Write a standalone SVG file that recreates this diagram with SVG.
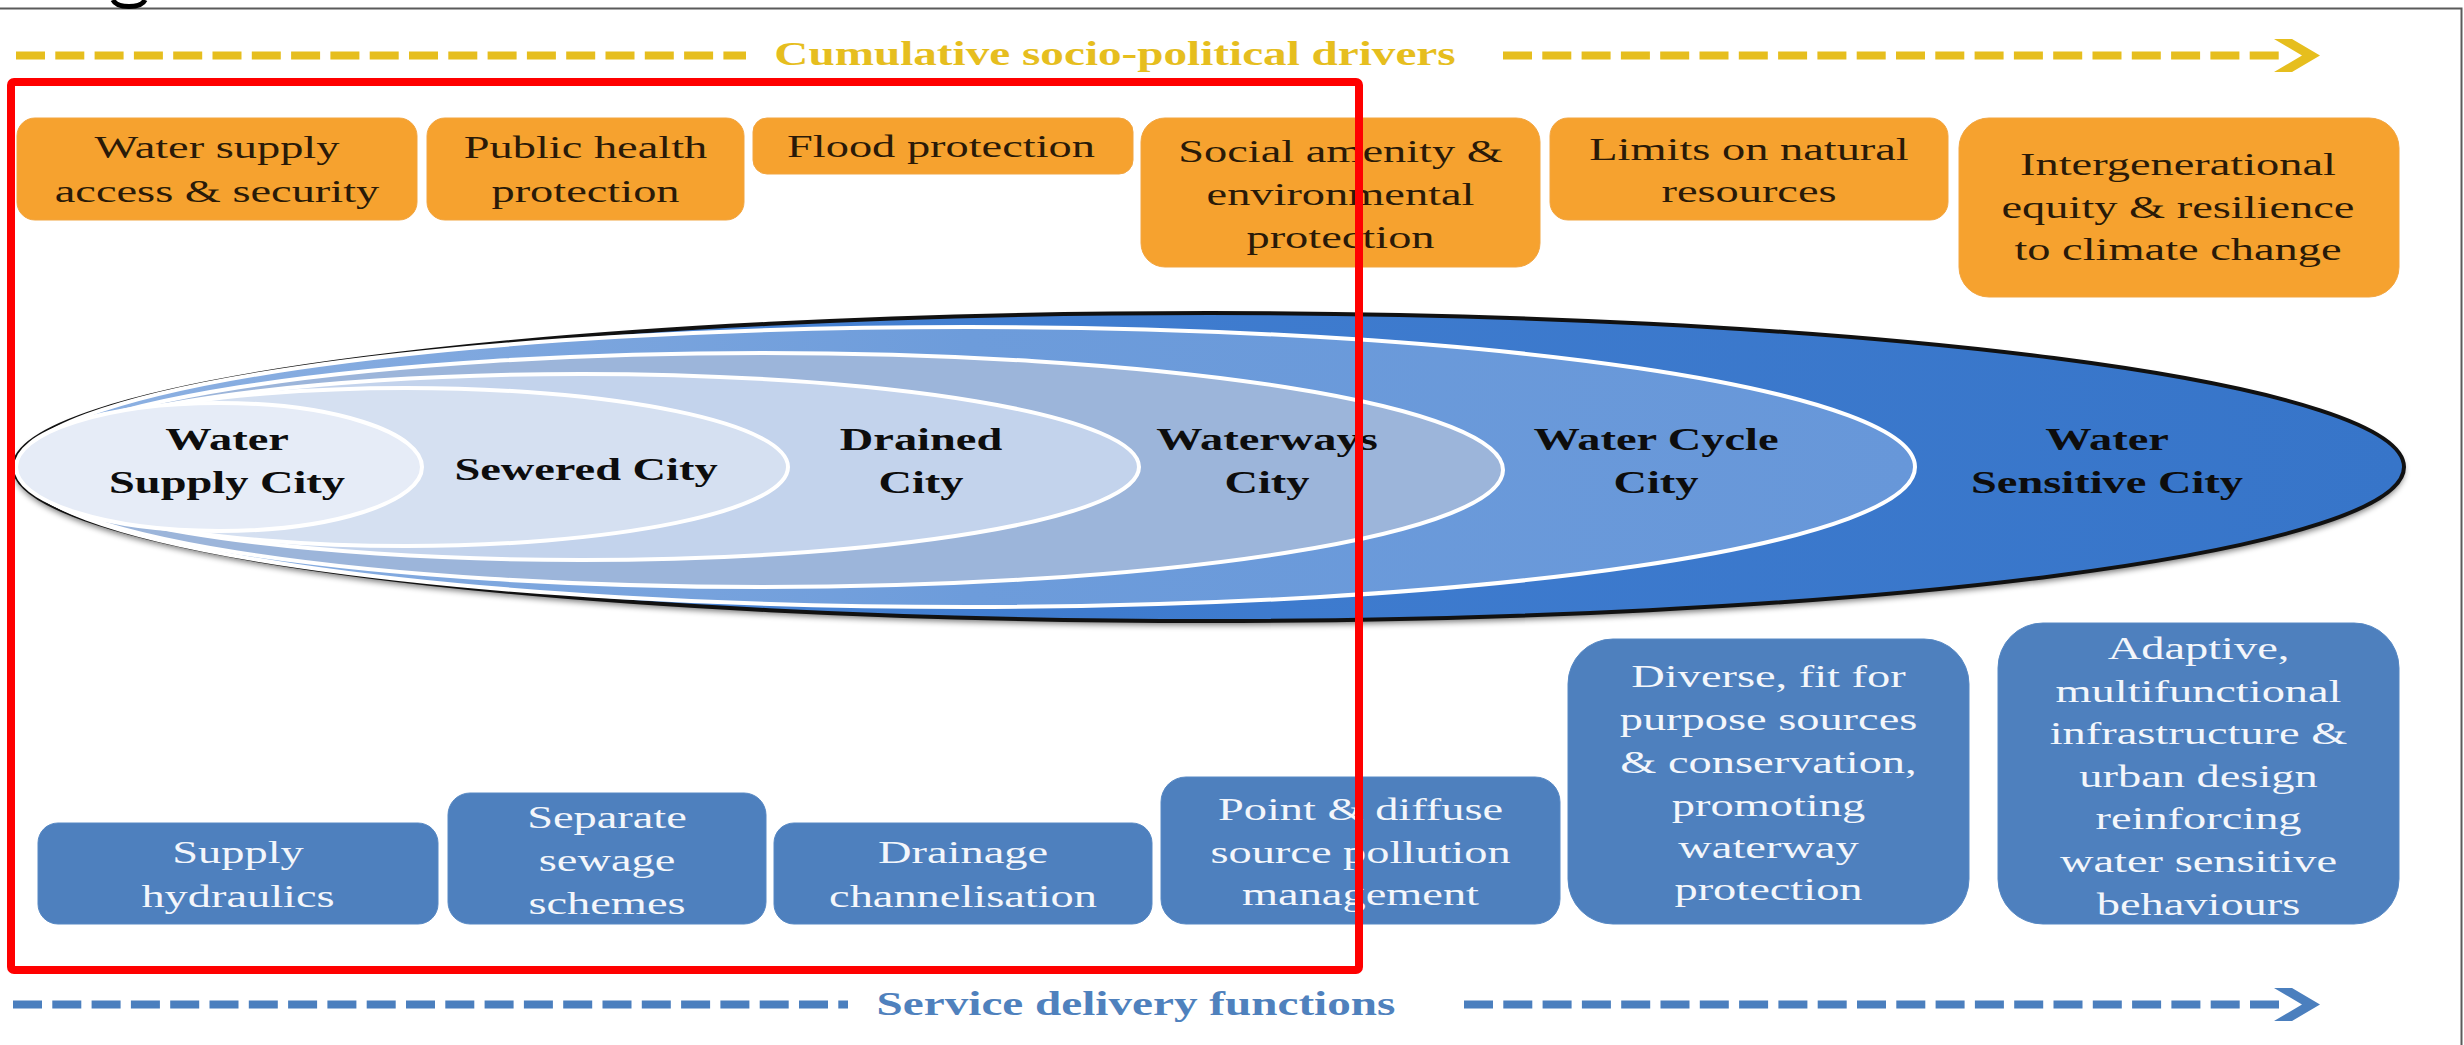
<svg xmlns="http://www.w3.org/2000/svg" width="2464" height="1045" viewBox="0 0 2464 1045">
<style>
.t{font-family:"Liberation Serif","Times New Roman",serif;font-size:32px;text-anchor:middle}
.dk{fill:#2a1a08}
.lt{fill:#f3f6fb}
.city{font-weight:bold;fill:#0d0d0d}
.hdr{font-family:"Liberation Serif","Times New Roman",serif;font-size:33px;font-weight:bold;text-anchor:middle}
.ob{fill:#F6A22F;stroke:#F2A540;stroke-width:1}
.bb{fill:#4E80BE;stroke:#5688C4;stroke-width:1}
.wl{fill:none;stroke:#ffffff;stroke-width:4}
</style>
<defs>
<linearGradient id="gOuter" x1="0" y1="0" x2="1" y2="0">
<stop offset="0" stop-color="#5A8FD8"/>
<stop offset="0.45" stop-color="#3F7CCF"/>
<stop offset="1" stop-color="#3775C9"/>
</linearGradient>
<linearGradient id="gCycle" x1="0" y1="0" x2="1" y2="0">
<stop offset="0" stop-color="#8FB2E2"/>
<stop offset="0.5" stop-color="#6D9CDB"/>
<stop offset="1" stop-color="#6797D9"/>
</linearGradient>
<filter id="blur" x="-5%" y="-20%" width="110%" height="140%"><feGaussianBlur stdDeviation="3"/></filter>
</defs>
<rect width="2464" height="1045" fill="#ffffff"/>
<!-- frame -->
<path d="M0,8.5 H2461.5 V1045" fill="none" stroke="#5a5a5a" stroke-width="2"/>
<path d="M113,0 Q116,6.5 129,6.5 Q142,6.5 145,0" fill="none" stroke="#000" stroke-width="5"/>

<!-- connectors / axis arrows -->
<g id="connectors">
<line x1="16" y1="55.5" x2="746" y2="55.5" stroke="#E6BE1E" stroke-width="8" stroke-dasharray="29 10.3"/>
<line x1="1503" y1="55.5" x2="2280" y2="55.5" stroke="#E6BE1E" stroke-width="8" stroke-dasharray="29 10.3"/>
<polygon points="2274,39 2292,39 2320,55.5 2292,72 2274,72 2302,55.5" fill="#E6BE1E"/>
<line x1="13" y1="1004.5" x2="848" y2="1004.5" stroke="#4B7FBE" stroke-width="8" stroke-dasharray="29 10.3"/>
<line x1="1464" y1="1004.5" x2="2280" y2="1004.5" stroke="#4B7FBE" stroke-width="8" stroke-dasharray="29 10.3"/>
<polygon points="2274,988 2292,988 2320,1004.5 2292,1021 2274,1021 2302,1004.5" fill="#4B7FBE"/>
</g>
<text class="hdr" fill="#E6BE1E" transform="matrix(1.43 0 0 1 1115 0)" x="0" y="65">Cumulative socio-political drivers</text>
<text class="hdr" fill="#4F81BD" transform="matrix(1.43 0 0 1 1136 0)" x="0" y="1015">Service delivery functions</text>

<!-- city ellipses -->
<g id="cities">
<ellipse cx="1209" cy="471" rx="1195" ry="154" fill="#000" opacity="0.55" filter="url(#blur)"/>
<ellipse cx="1209" cy="467" rx="1195" ry="154" fill="url(#gOuter)" stroke="#111" stroke-width="4"/>
<ellipse cx="967.5" cy="467" rx="947.5" ry="140" class="wl" style="fill:url(#gCycle)"/>
<ellipse cx="762.5" cy="470" rx="740.5" ry="117" class="wl" style="fill:#9CB5DA"/>
<ellipse cx="581.5" cy="467" rx="557.5" ry="93" class="wl" style="fill:#C3D3EC"/>
<ellipse cx="406" cy="467" rx="382" ry="79" class="wl" style="fill:#D5E0F1"/>
<ellipse cx="219" cy="467" rx="203" ry="64" class="wl" style="fill:#E6ECF7"/>
</g>
<g id="city-water-supply"><text class="t city" transform="matrix(1.45 0 0 1 227 0)"><tspan x="0" y="450">Water</tspan><tspan x="0" y="493">Supply City</tspan></text></g>
<g id="city-sewered"><text class="t city" transform="matrix(1.45 0 0 1 586 0)"><tspan x="0" y="480">Sewered City</tspan></text></g>
<g id="city-drained"><text class="t city" transform="matrix(1.45 0 0 1 921 0)"><tspan x="0" y="450">Drained</tspan><tspan x="0" y="493">City</tspan></text></g>
<g id="city-waterways"><text class="t city" transform="matrix(1.45 0 0 1 1267 0)"><tspan x="0" y="450">Waterways</tspan><tspan x="0" y="493">City</tspan></text></g>
<g id="city-water-cycle"><text class="t city" transform="matrix(1.45 0 0 1 1656 0)"><tspan x="0" y="450">Water Cycle</tspan><tspan x="0" y="493">City</tspan></text></g>
<g id="city-water-sensitive"><text class="t city" transform="matrix(1.45 0 0 1 2107 0)"><tspan x="0" y="450">Water</tspan><tspan x="0" y="493">Sensitive City</tspan></text></g>

<!-- drivers (orange) -->
<g id="driver-water-supply"><rect class="ob" x="17" y="118" width="400" height="102" rx="18"/>
<text class="t dk" transform="matrix(1.45 0 0 1 217 0)"><tspan x="0" y="158">Water supply</tspan><tspan x="0" y="202">access &amp; security</tspan></text></g>
<g id="driver-public-health"><rect class="ob" x="427" y="118" width="317" height="102" rx="18"/>
<text class="t dk" transform="matrix(1.45 0 0 1 585.5 0)"><tspan x="0" y="158">Public health</tspan><tspan x="0" y="202">protection</tspan></text></g>
<g id="driver-flood"><rect class="ob" x="753" y="118" width="380" height="56" rx="14"/>
<text class="t dk" transform="matrix(1.45 0 0 1 941 0)"><tspan x="0" y="157">Flood protection</tspan></text></g>
<g id="driver-social-amenity"><rect class="ob" x="1141" y="118" width="399" height="149" rx="24"/>
<text class="t dk" transform="matrix(1.45 0 0 1 1340.5 0)"><tspan x="0" y="162">Social amenity &amp;</tspan><tspan x="0" y="205">environmental</tspan><tspan x="0" y="248">protection</tspan></text></g>
<g id="driver-limits"><rect class="ob" x="1550" y="118" width="398" height="102" rx="18"/>
<text class="t dk" transform="matrix(1.45 0 0 1 1749 0)"><tspan x="0" y="160">Limits on natural</tspan><tspan x="0" y="202">resources</tspan></text></g>
<g id="driver-intergenerational"><rect class="ob" x="1959" y="118" width="440" height="179" rx="30"/>
<text class="t dk" transform="matrix(1.45 0 0 1 2178 0)"><tspan x="0" y="175">Intergenerational</tspan><tspan x="0" y="218">equity &amp; resilience</tspan><tspan x="0" y="260">to climate change</tspan></text></g>

<!-- service functions (blue) -->
<g id="fn-supply"><rect class="bb" x="38" y="823" width="400" height="101" rx="20"/>
<text class="t lt" transform="matrix(1.45 0 0 1 238 0)"><tspan x="0" y="863">Supply</tspan><tspan x="0" y="907">hydraulics</tspan></text></g>
<g id="fn-sewage"><rect class="bb" x="448" y="793" width="318" height="131" rx="22"/>
<text class="t lt" transform="matrix(1.45 0 0 1 607 0)"><tspan x="0" y="828">Separate</tspan><tspan x="0" y="871">sewage</tspan><tspan x="0" y="914">schemes</tspan></text></g>
<g id="fn-drainage"><rect class="bb" x="774" y="823" width="378" height="101" rx="20"/>
<text class="t lt" transform="matrix(1.45 0 0 1 963 0)"><tspan x="0" y="863">Drainage</tspan><tspan x="0" y="907">channelisation</tspan></text></g>
<g id="fn-pollution"><rect class="bb" x="1161" y="777" width="399" height="147" rx="25"/>
<text class="t lt" transform="matrix(1.45 0 0 1 1360.5 0)"><tspan x="0" y="820">Point &amp; diffuse</tspan><tspan x="0" y="863">source pollution</tspan><tspan x="0" y="905">management</tspan></text></g>
<g id="fn-diverse"><rect class="bb" x="1568" y="639" width="401" height="285" rx="45"/>
<text class="t lt" transform="matrix(1.45 0 0 1 1768.5 0)"><tspan x="0" y="687">Diverse, fit for</tspan><tspan x="0" y="730">purpose sources</tspan><tspan x="0" y="773">&amp; conservation,</tspan><tspan x="0" y="816">promoting</tspan><tspan x="0" y="858">waterway</tspan><tspan x="0" y="900">protection</tspan></text></g>
<g id="fn-adaptive"><rect class="bb" x="1998" y="623" width="401" height="301" rx="45"/>
<text class="t lt" transform="matrix(1.45 0 0 1 2198.5 0)"><tspan x="0" y="659">Adaptive,</tspan><tspan x="0" y="702">multifunctional</tspan><tspan x="0" y="744">infrastructure &amp;</tspan><tspan x="0" y="787">urban design</tspan><tspan x="0" y="829">reinforcing</tspan><tspan x="0" y="872">water sensitive</tspan><tspan x="0" y="915">behaviours</tspan></text></g>

<!-- red highlight -->
<rect id="highlight" x="11" y="82" width="1348" height="888" rx="3" fill="none" stroke="#FF0000" stroke-width="8"/>
</svg>
